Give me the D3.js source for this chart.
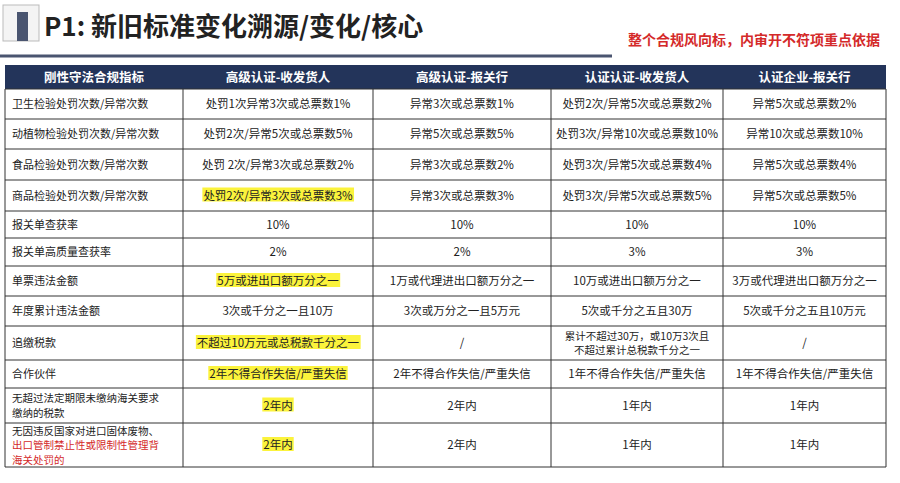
<!DOCTYPE html><html><head><meta charset="utf-8"><script src="https://cdn.jsdelivr.net/npm/d3@7"></script>
<style>body{margin:0;background:#fff;}svg{display:block;font-family:"Noto Sans CJK SC",sans-serif;}</style></head><body><svg width="900" height="483"></svg>
<script>
const headers=["刚性守法合规指标","高级认证-收发货人","高级认证-报关行","认证认证-收发货人","认证企业-报关行"];
const indicators=[["卫生检验处罚次数/异常次数"],["动植物检验处罚次数/异常次数"],["食品检验处罚次数/异常次数"],["商品检验处罚次数/异常次数"],["报关单查获率"],["报关单高质量查获率"],["单票违法金额"],["年度累计违法金额"],["追缴税款"],["合作伙伴"],["无超过法定期限未缴纳海关要求","缴纳的税款"],["无因违反国家对进口固体废物、","出口管制禁止性或限制性管理背","海关处罚的"]];
const col1=["处罚1次异常3次或总票数1%","处罚2次/异常5次或总票数5%","处罚 2次/异常3次或总票数2%","处罚2次/异常3次或总票数3%","10%","2%","5万或进出口额万分之一","3次或千分之一且10万","不超过10万元或总税款千分之一","2年不得合作失信/严重失信","2年内","2年内"];
const col2=["异常3次或总票数1%","异常5次或总票数5%","异常3次或总票数2%","异常3次或总票数3%","10%","2%","1万或代理进出口额万分之一","3次或万分之一且5万元","/","2年不得合作失信/严重失信","2年内","2年内"];
const col3=["处罚2次/异常5次或总票数2%","处罚3次/异常10次或总票数10%","处罚3次/异常5次或总票数4%","处罚3次/异常5次或总票数5%","10%","3%","10万或进出口额万分之一","5次或千分之五且30万",["累计不超过30万，或10万3次且","不超过累计总税款千分之一"],"1年不得合作失信/严重失信","1年内","1年内"];
const col4=["异常5次或总票数2%","异常10次或总票数10%","异常5次或总票数4%","异常5次或总票数5%","10%","3%","3万或代理进出口额万分之一","5次或千分之五且10万元","/","1年不得合作失信/严重失信","1年内","1年内"];
const highlightRows=[3,6,8,9,10,11];
const colEdges=[5,183,373,551,723,886];
const rowEdges=[65,89,119,149,180,211,238,266,296,326,360,388,423,467];
const svg=d3.select("svg");
svg.append("rect").attr("x",3).attr("y",5).attr("width",36).attr("height",36).attr("fill","#f4f4f4").attr("stroke","#bbb");
svg.append("rect").attr("x",17).attr("y",12).attr("width",11).attr("height",29).attr("fill","#4a5570");
svg.append("text").attr("x",44).attr("y",36).attr("font-size",26).attr("font-weight","bold").attr("fill","#222").text("P1: 新旧标准变化溯源/变化/核心");
svg.append("text").attr("x",880).attr("y",45).attr("text-anchor","end").attr("font-size",14).attr("font-weight","bold").attr("fill","#d42a2a").text("整个合规风向标，内审开不符项重点依据");
svg.append("line").attr("x1",0).attr("x2",612).attr("y1",56).attr("y2",56).attr("stroke","#4a5570").attr("stroke-width",3);
svg.append("rect").attr("x",5).attr("y",65).attr("width",881).attr("height",24).attr("fill","#23345a");
headers.forEach((h,i)=>svg.append("text").attr("x",(colEdges[i]+colEdges[i+1])/2).attr("y",82).attr("text-anchor","middle").attr("font-size",12.5).attr("font-weight","bold").attr("fill","#fff").text(h));
const g=svg.append("g");
const cols=[col1,col2,col3,col4];
const LH=14.5;
indicators.forEach((ind,r)=>{
  const y0=rowEdges[r+1],y1=rowEdges[r+2],ym=(y0+y1)/2;
  ind.forEach((t,k)=>{g.append("text").attr("x",12).attr("y",ym+4+(k-(ind.length-1)/2)*LH).attr("font-size",ind.length>1?10.5:11).attr("fill",(r==11&&k>0)?"#d42a2a":"#222").text(t);});
  cols.forEach((c,ci)=>{
    const v=c[r];const lines=Array.isArray(v)?v:[v];
    const cx=(colEdges[ci+1]+colEdges[ci+2])/2;
    lines.forEach((t,k)=>{
      const ty=ym+4+(k-(lines.length-1)/2)*LH;
      const tx=g.append("text").attr("x",cx).attr("y",ty).attr("text-anchor","middle").attr("font-size",lines.length>1?10.5:11.5).attr("fill","#222").text(t);
      if(ci==0&&highlightRows.includes(r)){const bb=tx.node().getBBox();g.insert("rect","text").attr("x",bb.x-1).attr("y",bb.y+1).attr("width",bb.width+2).attr("height",bb.height-2).attr("fill","#fbf33c");}
    });
  });
});
rowEdges.slice(1).forEach(y=>svg.append("line").attr("x1",5).attr("x2",886).attr("y1",y).attr("y2",y).attr("stroke","#333").attr("stroke-width",1));
colEdges.forEach(cx=>svg.append("line").attr("x1",cx).attr("x2",cx).attr("y1",89).attr("y2",467).attr("stroke","#333").attr("stroke-width",1));
</script></body></html>
